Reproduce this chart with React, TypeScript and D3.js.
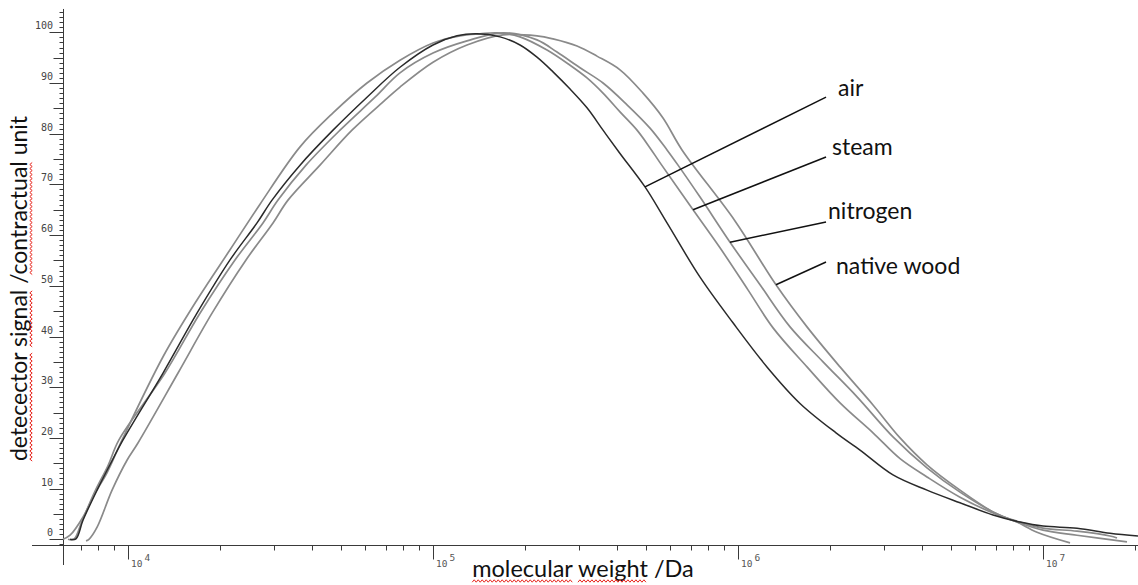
import * as d3 from "d3";
import { useEffect, useRef } from "react";

const WIDTH = 1138;
const HEIGHT = 585;

// molecular weight (Da) / detector signal
const airMw = [6410, 6700, 7070, 7860, 8660, 9560, 12930, 16710, 21440, 26290, 29440, 36370, 46660, 60300, 77350, 99240, 119000, 138400, 164600, 191400, 217600, 245600, 279300, 317400, 358200, 407200, 491800, 580700, 745100, 955600, 1235000, 1585000, 2080000, 2493000, 3198000, 4133000, 5304000, 6805000, 8344000, 9924000, 12830000, 16460000, 20330000];
const airSignal = [0, 0.1, 3.8, 9.7, 14.7, 19.6, 32.8, 44.6, 55.1, 62.4, 66.9, 73.8, 80.7, 87.2, 93.1, 97.5, 99.3, 99.7, 99.1, 97.5, 95.1, 92.2, 88.8, 85.1, 80.7, 76.1, 69.5, 62.4, 51.7, 42.7, 34.0, 26.8, 21.0, 17.6, 12.7, 9.7, 7.2, 4.8, 3.4, 2.6, 2.2, 1.2, 0.65];

const steamMw = [6076, 6410, 7070, 7740, 8470, 9490, 12930, 16710, 21440, 26890, 36370, 46660, 60300, 77350, 99240, 121700, 141500, 160900, 191400, 234700, 279300, 317400, 358200, 407200, 463000, 510700, 555000, 706800, 866300, 1070000, 1293000, 1671000, 2144000, 2750000, 3373000, 4133000, 5304000, 6805000, 8344000, 9924000, 12830000, 16460000, 17350000];
const steamSignal = [0, 0.8, 4.4, 9.1, 13.1, 19.6, 36.0, 47.2, 57.1, 66.1, 77.4, 84.1, 90.0, 94.5, 97.9, 99.3, 99.7, 99.9, 99.1, 96.5, 93.5, 91.0, 88.0, 84.3, 80.7, 77.2, 74.0, 65.0, 57.5, 49.2, 41.7, 34.0, 26.9, 21.0, 15.9, 12.3, 8.3, 5.2, 3.4, 2.2, 1.6, 0.65, 0.25];

const nitrogenMw = [6310, 6600, 7015, 7740, 8530, 9270, 13120, 17090, 22260, 27500, 30800, 38050, 49190, 64070, 77350, 99240, 128300, 168400, 217600, 253100, 301100, 358200, 429400, 510700, 580700, 631000, 745100, 934300, 1172000, 1470000, 1886000, 2438000, 3198000, 4133000, 5304000, 6805000, 8154000, 9924000, 12830000, 18710000];
const nitrogenSignal = [0, 0, 3.6, 9.5, 14.5, 19.6, 32.8, 44.6, 55.1, 62.4, 66.9, 73.8, 80.7, 87.2, 92.0, 95.9, 98.3, 99.9, 98.5, 96.1, 93.0, 90.0, 85.7, 81.1, 76.8, 73.8, 67.5, 58.6, 50.2, 41.9, 35.0, 28.1, 20.2, 14.1, 9.3, 5.4, 3.4, 1.8, 0.8, -0.5];

const nativeMw = [7230, 7390, 7860, 8800, 9850, 10700, 14480, 18720, 24190, 29660, 33210, 42290, 53840, 69070, 77350, 99240, 128300, 168400, 217600, 245600, 294400, 342200, 407200, 484500, 563400, 650300, 970300, 1322000, 1671000, 2144000, 2750000, 3373000, 4133000, 5304000, 6805000, 8154000, 9484000, 12170000];
const nativeSignal = [-0.3, 0, 2.4, 9.7, 15.6, 19.0, 32.8, 44.6, 55.1, 62.4, 66.9, 73.8, 80.7, 86.6, 89.2, 94.1, 97.5, 99.5, 99.3, 98.7, 97.3, 95.3, 92.6, 88.0, 83.1, 76.8, 62.8, 50.2, 41.9, 34.0, 26.5, 20.0, 14.7, 9.7, 5.4, 3.4, 1.4, -0.7];

const seriesNames = ["air", "steam", "nitrogen", "native wood"];

// leader lines: point on the curve and point at the label (Da, signal)
const leaderMw = [491800, 706800, 934300, 1322000];
const leaderSignal = [69.5, 65.0, 58.6, 50.2];
const labelMw = [1929000, 1929000, 1929000, 1929000];
const labelSignal = [87.2, 75.4, 62.6, 54.7];

const yTickLabels = [0, 10, 20, 30, 40, 50, 60, 70, 80, 90, 100];
const xDecades = [4, 5, 6, 7];

const TITLE_FONT = "Lato, 'Open Sans', sans-serif";
const TICK_FONT = "'DejaVu Sans Mono', monospace";

// red spell-check wave under a run of characters
function squiggle(x0: number, x1: number, y: number) {
  const pts: [number, number][] = [];
  let up = false;
  for (let x = x0; x <= x1; x += 2) {
    pts.push([x, up ? y - 1.2 : y + 1.2]);
    up = !up;
  }
  return d3.line()(pts) || "";
}

export default function App() {
  const ref = useRef<SVGSVGElement>(null);

  useEffect(() => {
    document.body.style.margin = "0";
    const svg = d3.select(ref.current);
    svg.selectAll("*").remove();

    const x = d3.scaleLog().domain([6076, 20330000]).range([63, 1138]);
    const y = d3.scaleLinear().domain([0, 100]).range([539.3, 32.3]);

    const axisColor = "#3a3a3a";
    const axisY = Math.round(y(-1.15)) + 0.5;
    const axisX = 63.5;

    // x axis line (starts left of the y axis)
    svg.append("line")
      .attr("x1", 32).attr("x2", WIDTH)
      .attr("y1", axisY).attr("y2", axisY)
      .attr("stroke", axisColor).attr("stroke-width", 1);

    // y axis line, runs a bit below the x axis
    svg.append("line")
      .attr("x1", axisX).attr("x2", axisX)
      .attr("y1", y(104.6)).attr("y2", 565)
      .attr("stroke", axisColor).attr("stroke-width", 1);

    // y ticks every unit, longer every 5 and 10
    const yTicks = d3.range(-1, 105);
    svg.append("g")
      .selectAll("line")
      .data(yTicks)
      .enter()
      .append("line")
      .attr("x1", (d) => axisX - (d % 10 === 0 ? 14 : d % 5 === 0 ? 10 : 4))
      .attr("x2", axisX)
      .attr("y1", (d) => Math.round(y(d)) + 0.5)
      .attr("y2", (d) => Math.round(y(d)) + 0.5)
      .attr("stroke", axisColor)
      .attr("stroke-width", 1);

    svg.append("g")
      .selectAll("text")
      .data(yTickLabels)
      .enter()
      .append("text")
      .attr("x", 53)
      .attr("y", (d) => y(d) - 3)
      .attr("text-anchor", "end")
      .attr("font-family", TICK_FONT)
      .attr("font-size", 10)
      .attr("fill", "#444")
      .text((d) => d);

    // x ticks: decades long, 2..9 short
    const xTicks: { v: number; major: boolean }[] = [];
    for (let k = 3; k <= 7; k++) {
      for (let m = 1; m <= 9; m++) {
        const v = m * Math.pow(10, k);
        if (v > 6076 && v <= 20330000) xTicks.push({ v, major: m === 1 });
      }
    }
    svg.append("g")
      .selectAll("line")
      .data(xTicks)
      .enter()
      .append("line")
      .attr("x1", (d) => Math.round(x(d.v)) - 0.5)
      .attr("x2", (d) => Math.round(x(d.v)) - 0.5)
      .attr("y1", axisY)
      .attr("y2", (d) => axisY + (d.major ? 14 : 5))
      .attr("stroke", axisColor)
      .attr("stroke-width", 1);

    const xLab = svg.append("g")
      .selectAll("text")
      .data(xDecades)
      .enter()
      .append("text")
      .attr("x", (d) => x(Math.pow(10, d)) + 2)
      .attr("y", 566.5)
      .attr("font-family", TICK_FONT)
      .attr("font-size", 9.5)
      .attr("fill", "#555");
    xLab.append("tspan").text("10");
    xLab.append("tspan").attr("dx", 2).attr("dy", -6).text((d) => d);

    // traces
    const line = d3.line<[number, number]>()
      .x((d) => x(d[0]))
      .y((d) => y(d[1]))
      .curve(d3.curveCatmullRom.alpha(0.5));

    const grays: [number[], number[]][] = [
      [steamMw, steamSignal],
      [nitrogenMw, nitrogenSignal],
      [nativeMw, nativeSignal],
    ];
    grays.forEach(([mw, sig]) => {
      svg.append("path")
        .attr("d", line(mw.map((m, i) => [m, sig[i]] as [number, number])))
        .attr("fill", "none")
        .attr("stroke", "#8a8a8a")
        .attr("stroke-width", 1.7);
    });
    svg.append("path")
      .attr("d", line(airMw.map((m, i) => [m, airSignal[i]] as [number, number])))
      .attr("fill", "none")
      .attr("stroke", "#2a2a2a")
      .attr("stroke-width", 1.5);

    // leader lines and names
    const labelDx = [12, 6, 2, 10];
    const labelDy = [-1, -2, -3, 12];
    seriesNames.forEach((name, i) => {
      const x0 = x(leaderMw[i]);
      const y0 = y(leaderSignal[i]);
      const x1 = x(labelMw[i]);
      const y1 = y(labelSignal[i]);
      svg.append("line")
        .attr("x1", x0).attr("y1", y0)
        .attr("x2", x1).attr("y2", y1)
        .attr("stroke", "#111")
        .attr("stroke-width", 1.5);
      svg.append("text")
        .attr("x", x1 + labelDx[i])
        .attr("y", y1 + labelDy[i])
        .attr("font-family", TITLE_FONT)
        .attr("font-size", 23)
        .attr("fill", "#111")
        .text(name);
    });

    // axis titles with the red spell-check marks
    const xTitle = svg.append("text")
      .attr("x", 583)
      .attr("y", 577)
      .attr("text-anchor", "middle")
      .attr("font-family", TITLE_FONT)
      .attr("font-size", 23.5)
      .attr("fill", "#111")
      .text("molecular weight /Da");
    const xt = xTitle.node() as SVGTextElement;
    [[0, 8], [10, 15]].forEach(([a, b]) => {
      const s = xt.getStartPositionOfChar(a).x;
      const e = xt.getEndPositionOfChar(b).x;
      svg.append("path")
        .attr("d", squiggle(s, e, 581))
        .attr("fill", "none")
        .attr("stroke", "#e8241c")
        .attr("stroke-width", 1);
    });

    const yg = svg.append("g").attr("transform", "translate(27,288.5) rotate(-90)");
    const yTitle = yg.append("text")
      .attr("x", 0)
      .attr("y", 0)
      .attr("text-anchor", "middle")
      .attr("font-family", TITLE_FONT)
      .attr("font-size", 23)
      .attr("fill", "#111")
      .text("detecector signal /contractual unit");
    const ytn = yTitle.node() as SVGTextElement;
    [[0, 9], [11, 16], [19, 29]].forEach(([a, b]) => {
      const s = ytn.getStartPositionOfChar(a).x;
      const e = ytn.getEndPositionOfChar(b).x;
      yg.append("path")
        .attr("d", squiggle(s, e, 4))
        .attr("fill", "none")
        .attr("stroke", "#e8241c")
        .attr("stroke-width", 1);
    });
  }, []);

  return (
    <div>
      <svg ref={ref} width={WIDTH} height={HEIGHT} style={{ display: "block", background: "#fff" }} />
    </div>
  );
}
